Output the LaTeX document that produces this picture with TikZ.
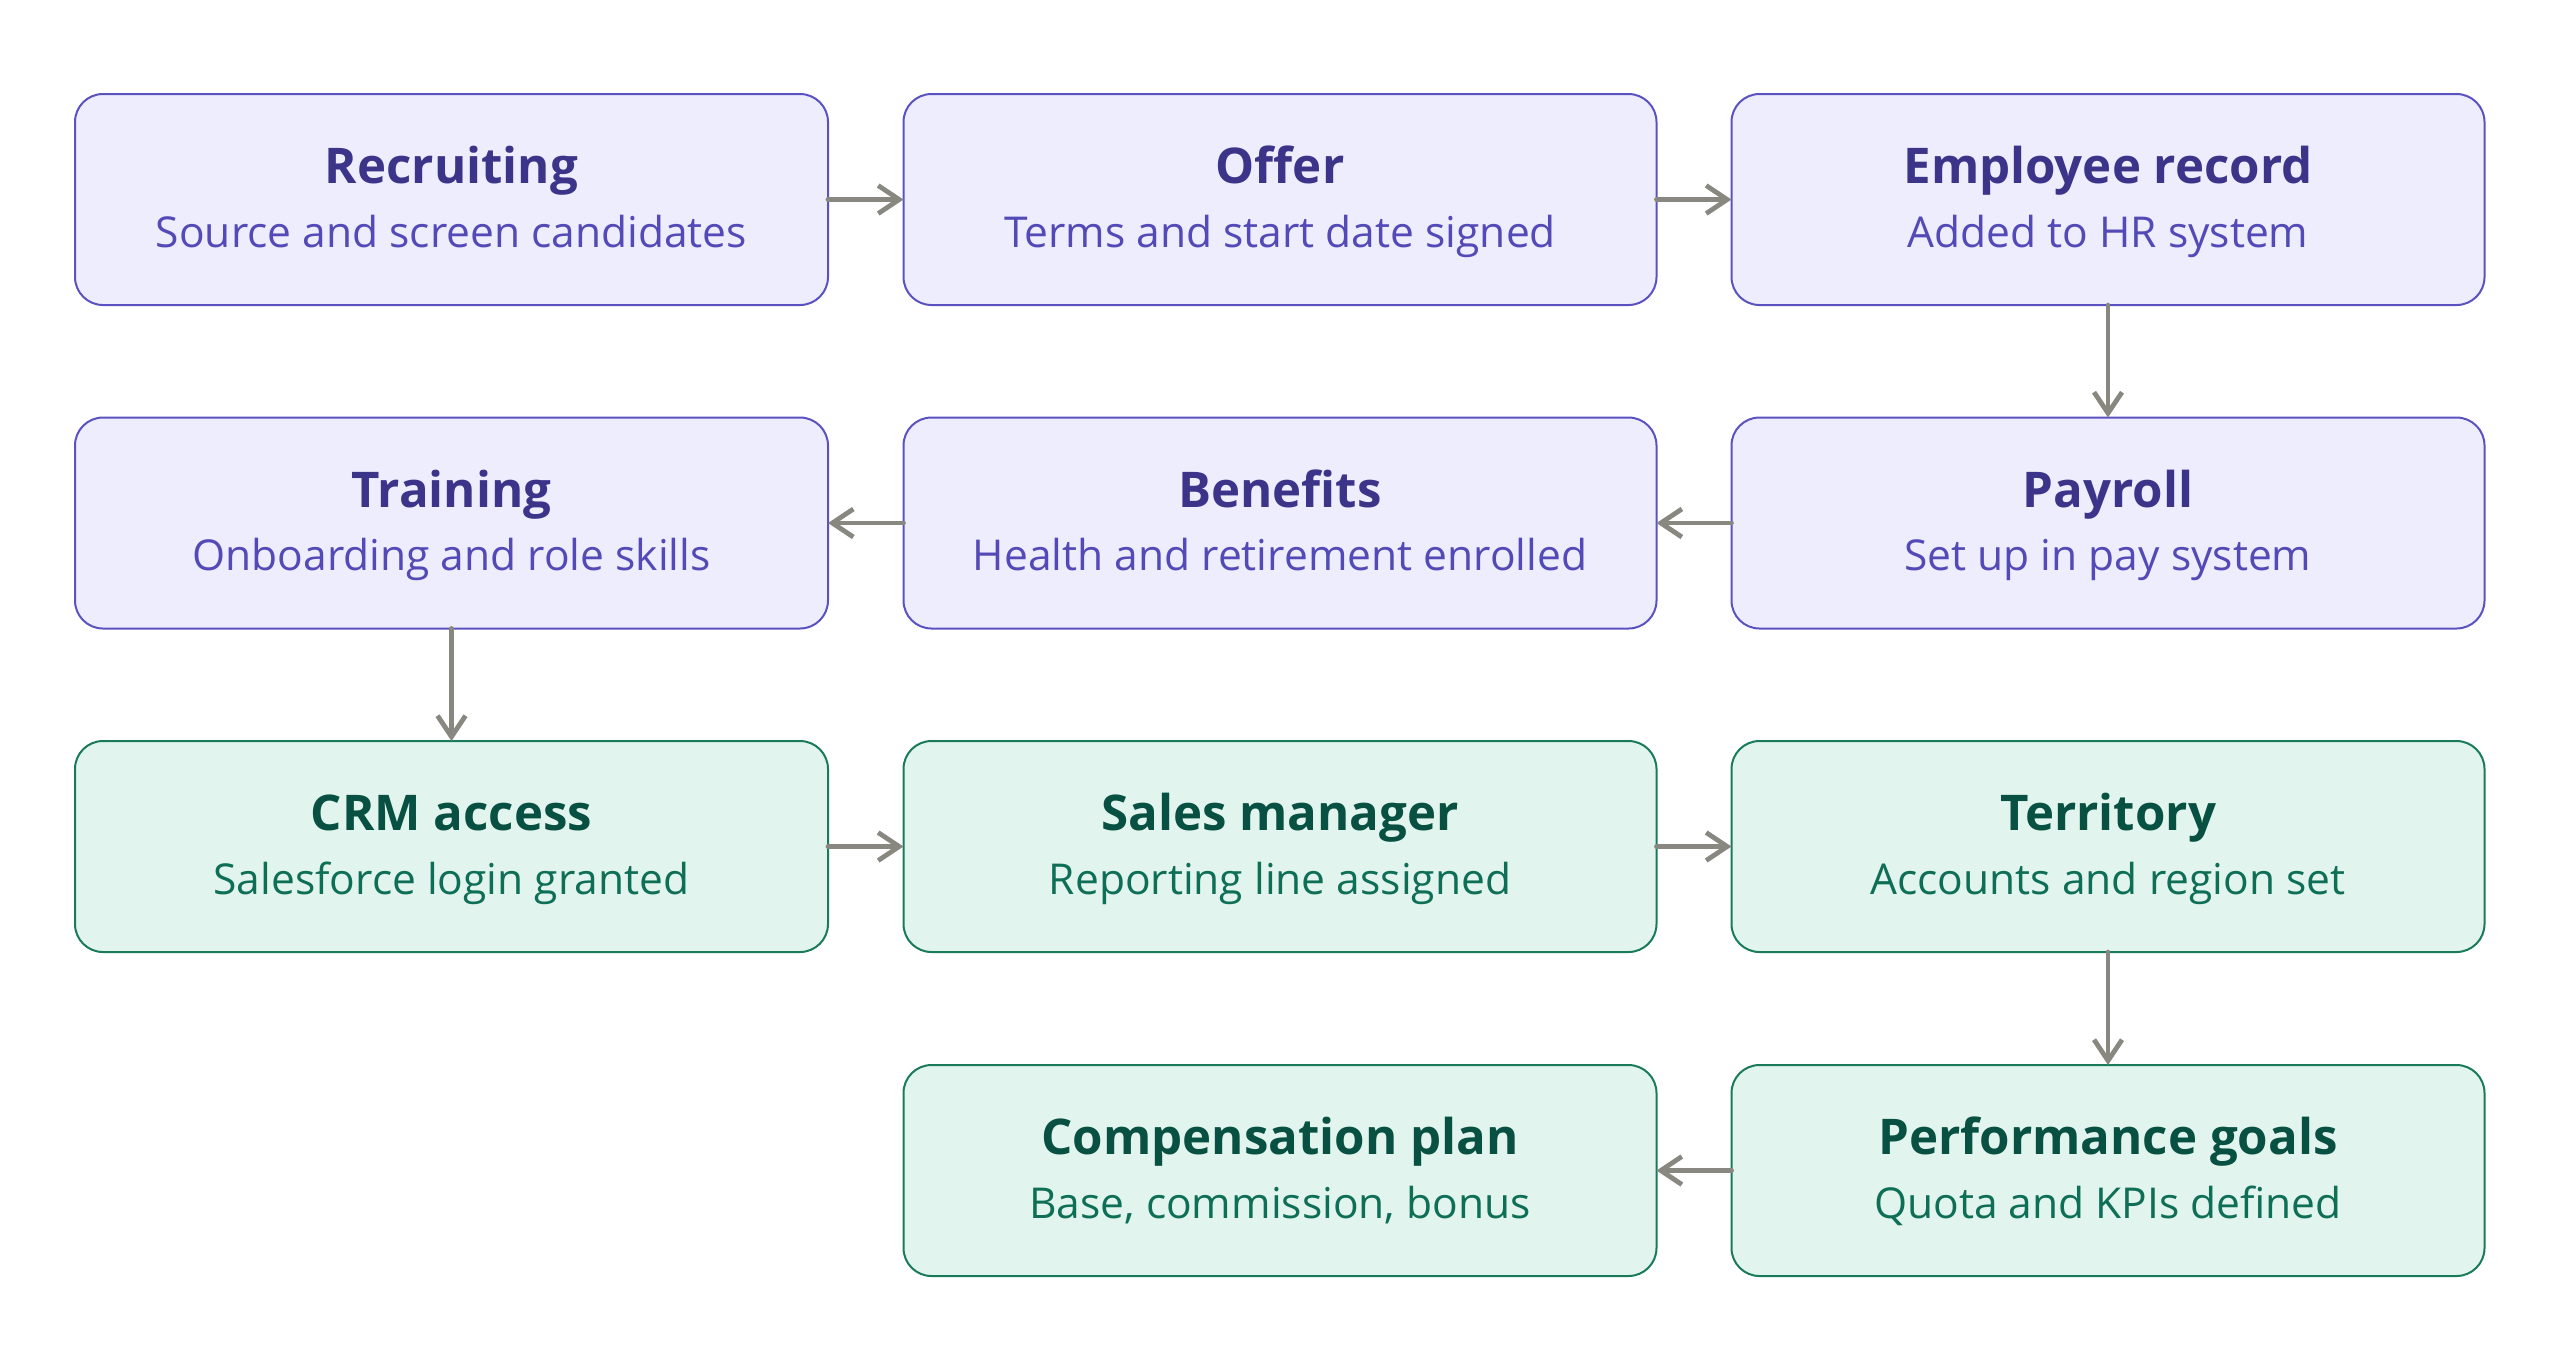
\documentclass[tikz,border=0pt]{standalone}
\usepackage{fontspec}
\setmainfont{Open Sans}
\usetikzlibrary{arrows.meta}
\definecolor{hrfill}{HTML}{EEEDFE}
\definecolor{hrline}{HTML}{5B52C2}
\definecolor{hrtitle}{HTML}{3C3489}
\definecolor{hrsub}{HTML}{534AB7}
\definecolor{salesfill}{HTML}{E1F5EE}
\definecolor{salesline}{HTML}{1A7A5C}
\definecolor{salestitle}{HTML}{085041}
\definecolor{salessub}{HTML}{0F6E56}
\definecolor{linkgray}{HTML}{888780}
% title line and subtitle line of a stage
\newcommand{\stage}[3]{\rule{0pt}{0.52cm}{\fontsize{14}{18.14}\selectfont\bfseries\color{#1}#2}\\#3\rule[-0.2cm]{0pt}{0.2cm}}
\begin{document}
\begin{tikzpicture}[line join=round, line cap=round, >={Straight Barb[length=0.21cm,width=0.28cm]},
  box/.style={rectangle, rounded corners=0.28cm, line width=0.02cm, minimum width=7.53cm, minimum height=2.11cm, inner sep=0pt, outer sep=0pt, align=center, font=\fontsize{12.1}{18.14}\selectfont},
  hr/.style={box, draw=hrline, fill=hrfill, text=hrsub},
  sales/.style={box, draw=salesline, fill=salesfill, text=salessub},
  link/.style={->, draw=linkgray, line width=0.048cm}]
	\useasboundingbox (0,0) rectangle (25.6,-13.7);
	% HR stages
	\node[hr] (recruit) at (4.515,-1.995) {\stage{hrtitle}{Recruiting}{Source and screen candidates}};
	\node[hr] (offer) at (12.8,-1.995) {\stage{hrtitle}{Offer}{Terms and start date signed}};
	\node[hr] (record) at (21.08,-1.995) {\stage{hrtitle}{Employee record}{Added to HR system}};
	\node[hr] (training) at (4.515,-5.23) {\stage{hrtitle}{Training}{Onboarding and role skills}};
	\node[hr] (benefits) at (12.8,-5.23) {\stage{hrtitle}{Benefits}{Health and retirement enrolled}};
	\node[hr] (payroll) at (21.08,-5.23) {\stage{hrtitle}{Payroll}{Set up in pay system}};
	% sales stages
	\node[sales] (crm) at (4.515,-8.465) {\stage{salestitle}{CRM access}{Salesforce login granted}};
	\node[sales] (manager) at (12.8,-8.465) {\stage{salestitle}{Sales manager}{Reporting line assigned}};
	\node[sales] (territory) at (21.08,-8.465) {\stage{salestitle}{Territory}{Accounts and region set}};
	\node[sales] (comp) at (12.8,-11.705) {\stage{salestitle}{Compensation plan}{Base, commission, bonus}};
	\node[sales] (goals) at (21.08,-11.705) {\stage{salestitle}{Performance goals}{Quota and KPIs defined}};
	\draw[link] (recruit) -- (offer);
	\draw[link] (offer) -- (record);
	\draw[link] (record) -- (payroll);
	\draw[link] (payroll) -- (benefits);
	\draw[link] (benefits) -- (training);
	\draw[link] (training) -- (crm);
	\draw[link] (crm) -- (manager);
	\draw[link] (manager) -- (territory);
	\draw[link] (territory) -- (goals);
	\draw[link] (goals) -- (comp);
\end{tikzpicture}
\end{document}
